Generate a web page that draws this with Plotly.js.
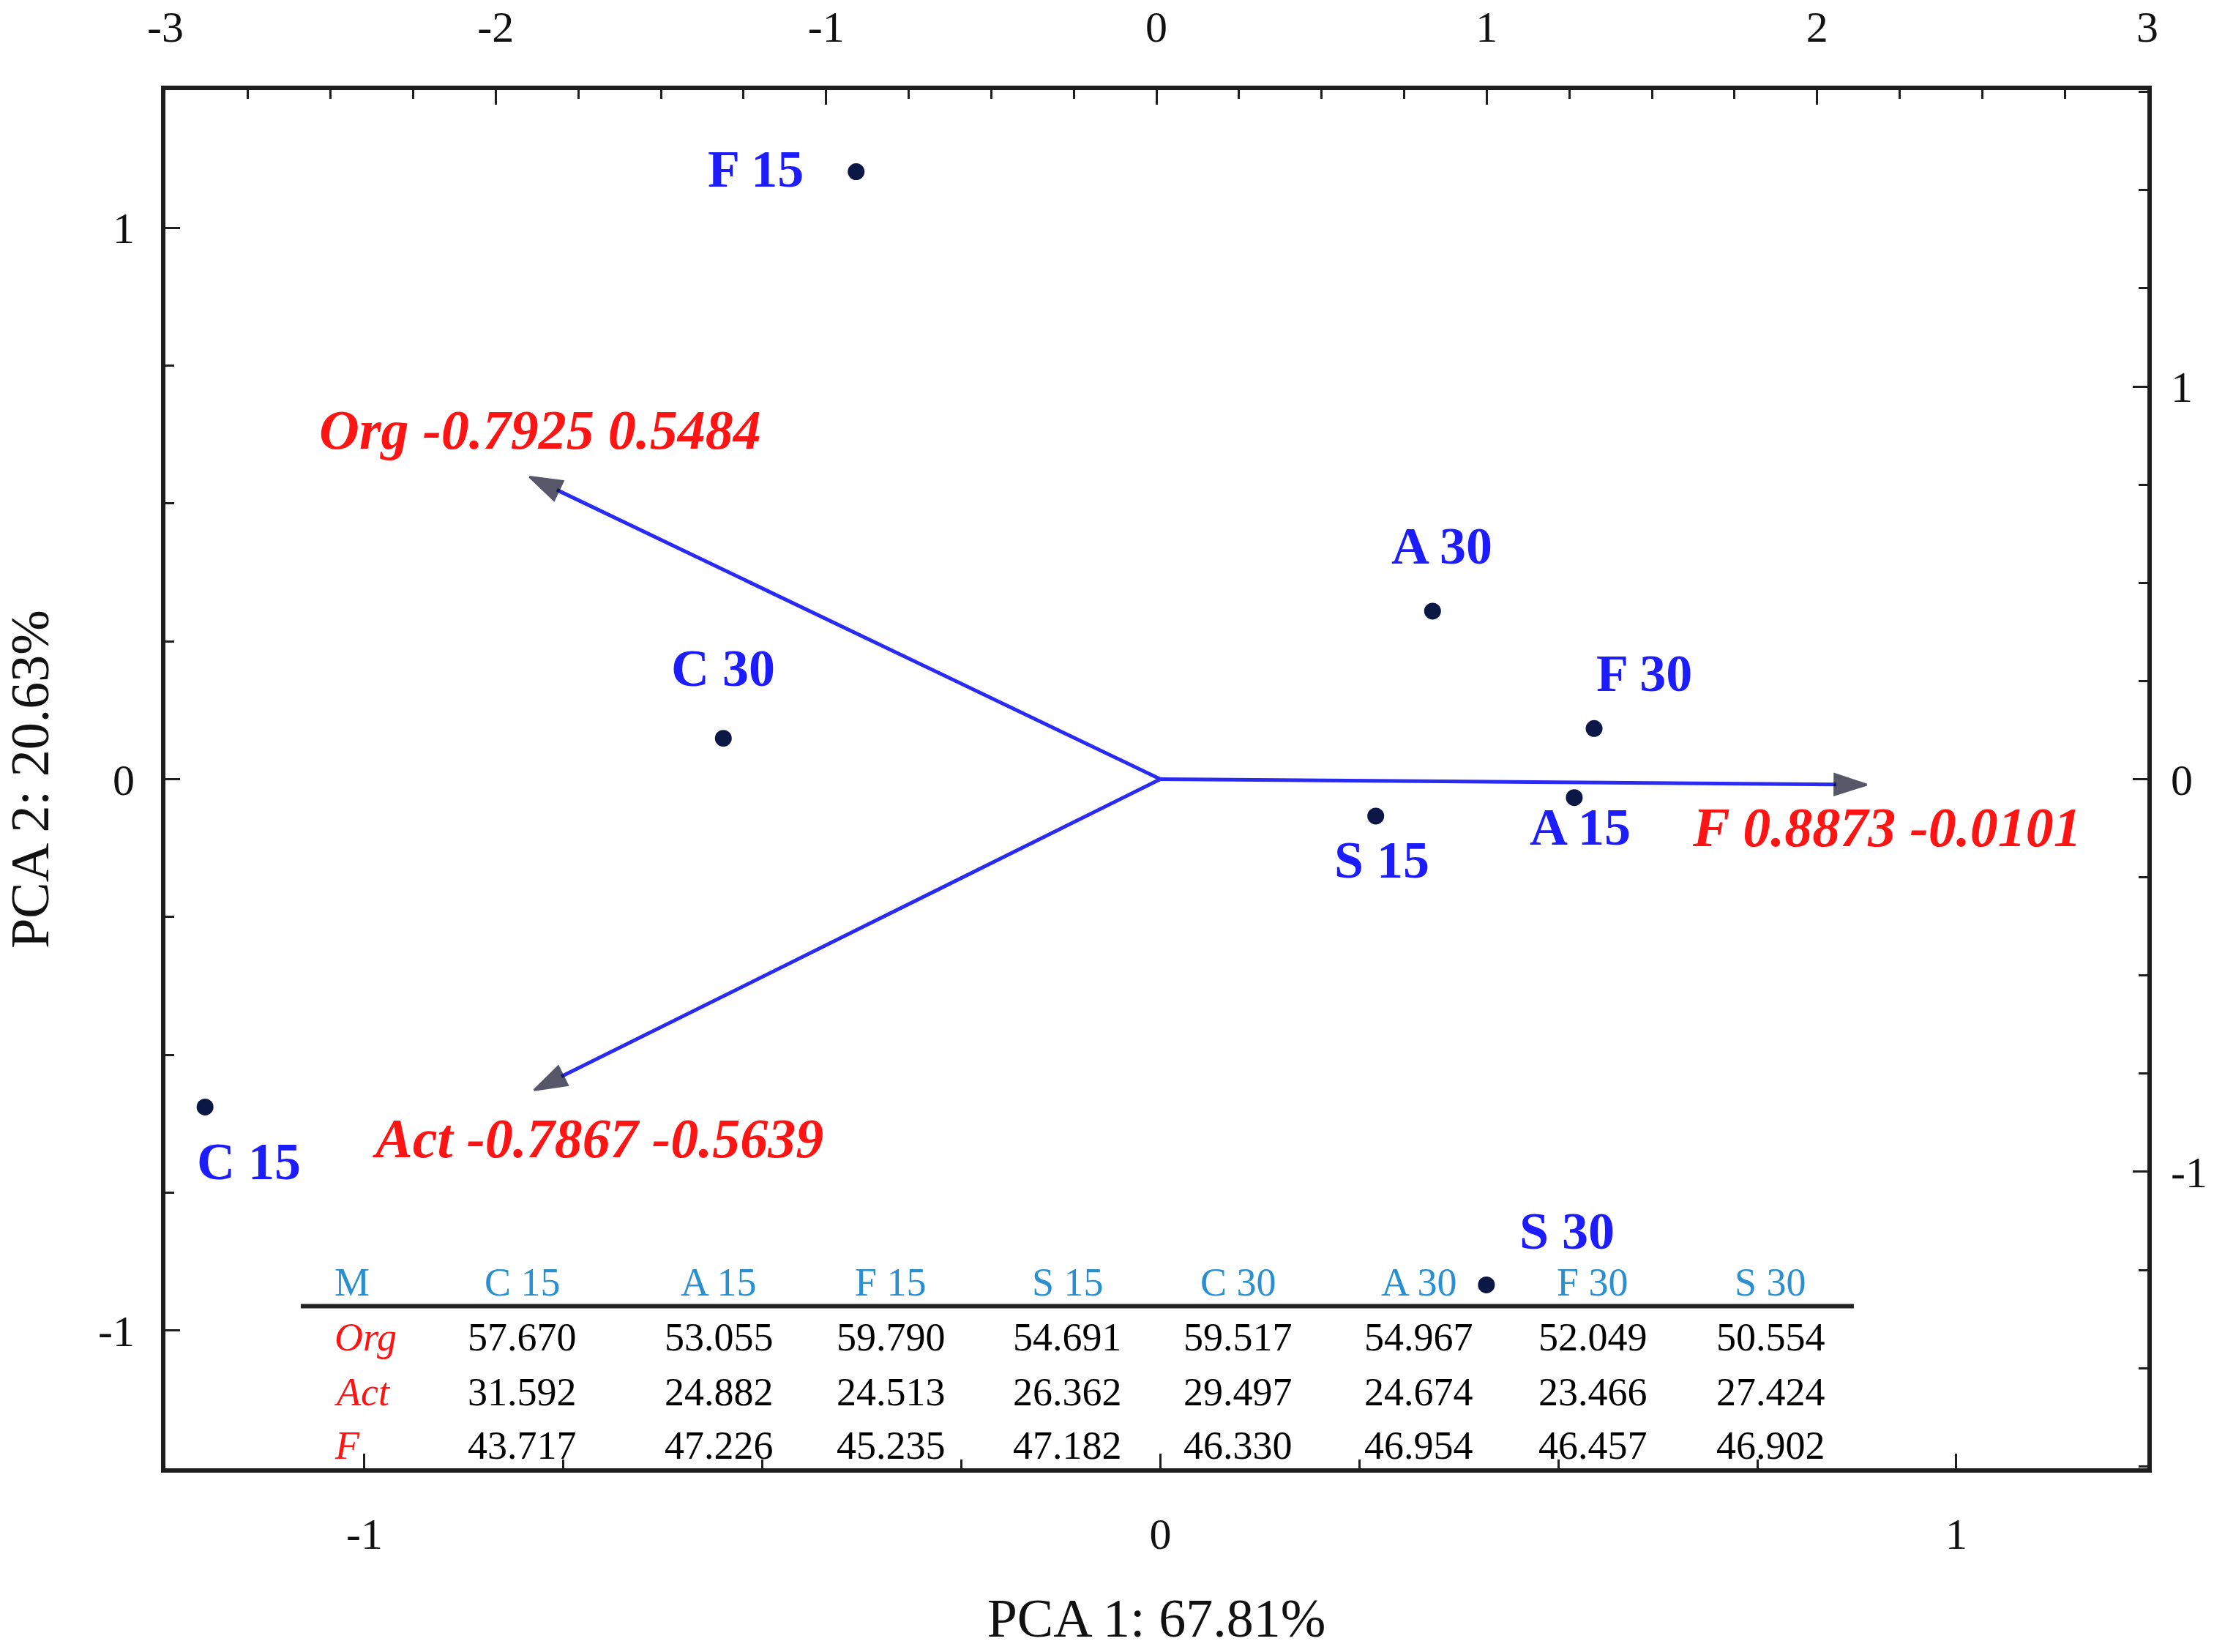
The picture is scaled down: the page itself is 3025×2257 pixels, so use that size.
<!DOCTYPE html>
<html><head><meta charset="utf-8">
<script src="https://cdn.plot.ly/plotly-3.0.1.min.js"></script>
<style>html,body{margin:0;padding:0;background:#fff;} #chart{width:3025px;height:2257px;}</style>
</head><body><div id="chart"></div>
<script>
// ---- data ----
const sampleNames = ['C 15', 'A 15', 'F 15', 'S 15', 'C 30', 'A 30', 'F 30', 'S 30'];
const scorePC1 = [-2.88, 1.265, -0.909, 0.664, -1.311, 0.836, 1.325, 0.999];
const scorePC2 = [-0.835, -0.047, 1.547, -0.094, 0.104, 0.428, 0.129, -1.288];
const variableNames = ['Org', 'Act', 'F'];
const loadingPC1 = [-0.7925, -0.7867, 0.8873];
const loadingPC2 = [0.5484, -0.5639, -0.0101];
const tableCorner = 'M';
const tableRowNames = ['Org', 'Act', 'F'];
const tableOrg = [57.670, 53.055, 59.790, 54.691, 59.517, 54.967, 52.049, 50.554];
const tableAct = [31.592, 24.882, 24.513, 26.362, 29.497, 24.674, 23.466, 27.424];
const tableF = [43.717, 47.226, 45.235, 47.182, 46.330, 46.954, 46.457, 46.902];
const pc1Title = 'PCA 1: 67.81%';
const pc2Title = 'PCA 2: 20.63%';
const topTickVals = [-3, -2, -1, 0, 1, 2, 3];
const topTickText = ['-3', '-2', '-1', '0', '1', '2', '3'];
const unitTickVals = [-1, 0, 1];
const unitTickText = ['-1', '0', '1'];

// ---- styles / positions ----
const SERIF = 'Liberation Serif, Times New Roman, serif';
const BLUE = '#1c1cff';
const RED = '#ff1414';
const AXC = '#1e1e1e';
const sampleLabelShift = [[60, -75], [8, -40], [-137, 4], [8, -60], [0, 96], [13, 89], [68, 75], [110, 73]];
const loadingLabelShift = [[14, 64], [87, -66], [28, -58]];
const tableColX = [0.1802, 0.2792, 0.3661, 0.4552, 0.5413, 0.6325, 0.7201, 0.8099];
const tableRowLabelX = 0.0847;
const tableRowY = [0.1350, 0.0951, 0.0551, 0.0162];
const tableLineY = 0.1176, tableLineX0 = 0.0683, tableLineX1 = 0.8519;

const traces = [];
// loading arrows (bottom/left axes)
for (let i = 0; i < variableNames.length; i++) {
  traces.push({
    x: [0, loadingPC1[i]], y: [0, loadingPC2[i]], xaxis: 'x', yaxis: 'y',
    mode: 'lines+markers', type: 'scatter', hoverinfo: 'skip', showlegend: false,
    line: {color: '#2a2af5', width: 5},
    marker: {symbol: ['circle', 'arrow'], size: [0, 46], angleref: 'previous',
             color: '#10122a', line: {width: 3, color: '#10122a'}}
  });
}
// score points (top/right axes)
traces.push({
  x: scorePC1, y: scorePC2, xaxis: 'x2', yaxis: 'y2', type: 'scatter', mode: 'markers',
  showlegend: false, marker: {color: '#0b1846', size: 23}
});

const annotations = [];
for (let i = 0; i < sampleNames.length; i++) {
  annotations.push({
    x: scorePC1[i], y: scorePC2[i], xref: 'x2', yref: 'y2', text: sampleNames[i], showarrow: false,
    xanchor: 'center', yanchor: 'middle',
    xshift: sampleLabelShift[i][0], yshift: sampleLabelShift[i][1],
    font: {family: SERIF, size: 72, color: BLUE, weight: 'bold'}
  });
}
for (let i = 0; i < variableNames.length; i++) {
  annotations.push({
    x: loadingPC1[i], y: loadingPC2[i], xref: 'x', yref: 'y',
    xanchor: 'center', yanchor: 'middle',
    text: variableNames[i] + ' ' + loadingPC1[i].toFixed(4) + ' ' + loadingPC2[i].toFixed(4),
    showarrow: false, xshift: loadingLabelShift[i][0], yshift: loadingLabelShift[i][1],
    font: {family: SERIF, size: 76, color: RED, weight: 'bold', style: 'italic'}
  });
}
// table
const TF = 54;
const HEAD = '#2a8fd0';
annotations.push({x: tableRowLabelX, y: tableRowY[0], xref: 'paper', yref: 'paper', xanchor: 'left', yanchor: 'middle',
  text: tableCorner, showarrow: false, font: {family: SERIF, size: TF, color: HEAD}});
sampleNames.forEach((n, j) => annotations.push({x: tableColX[j], y: tableRowY[0], xref: 'paper', yref: 'paper',
  xanchor: 'center', yanchor: 'middle',
  text: n, showarrow: false, font: {family: SERIF, size: TF, color: HEAD}}));
const tableRows = [tableOrg, tableAct, tableF];
tableRows.forEach((row, r) => {
  annotations.push({x: tableRowLabelX, y: tableRowY[r + 1], xref: 'paper', yref: 'paper', xanchor: 'left', yanchor: 'middle',
    text: tableRowNames[r], showarrow: false, font: {family: SERIF, size: TF, color: RED, style: 'italic'}});
  row.forEach((v, j) => annotations.push({x: tableColX[j], y: tableRowY[r + 1], xref: 'paper', yref: 'paper',
    xanchor: 'center', yanchor: 'middle',
    text: v.toFixed(3), showarrow: false, font: {family: SERIF, size: TF, color: '#000'}}));
});

function axisBase() {
  return {
    showline: true, linewidth: 6, linecolor: AXC, mirror: false, showgrid: false, zeroline: false,
    ticks: 'inside', ticklen: 20, tickwidth: 3, tickcolor: AXC,
    minor: {tickmode: 'linear', tick0: 0, dtick: 0.25, ticks: 'inside', ticklen: 12, tickwidth: 3, tickcolor: AXC, showgrid: false},
    tickfont: {family: SERIF, size: 60, color: '#111'}, tickmode: 'array', automargin: false
  };
}

const layout = {
  width: 3025, height: 2257, paper_bgcolor: '#fff', plot_bgcolor: '#fff',
  margin: {l: 226, r: 91, t: 123, b: 251},
  showlegend: false,
  xaxis: Object.assign(axisBase(), {range: [-1.25, 1.24], side: 'bottom', anchor: 'y',
    tickvals: unitTickVals, ticktext: unitTickText, ticklabelstandoff: 32,
    title: {text: pc1Title, font: {family: SERIF, size: 74, color: '#111'}, standoff: 58}}),
  xaxis2: Object.assign(axisBase(), {range: [-3, 3], side: 'top', overlaying: 'x', anchor: 'y',
    tickvals: topTickVals, ticktext: topTickText, ticklabelstandoff: 36}),
  yaxis: Object.assign(axisBase(), {range: [-1.25, 1.25], side: 'left', anchor: 'x',
    tickvals: unitTickVals, ticktext: unitTickText, ticklabelstandoff: 24,
    title: {text: pc2Title, font: {family: SERIF, size: 74, color: '#111'}, standoff: 70}}),
  yaxis2: Object.assign(axisBase(), {range: [-1.755, 1.755], side: 'right', overlaying: 'y', anchor: 'x',
    tickvals: unitTickVals, ticktext: unitTickText, ticklabelstandoff: 14}),
  annotations: annotations,
  shapes: [{type: 'line', xref: 'paper', yref: 'paper', x0: tableLineX0, x1: tableLineX1,
    y0: tableLineY, y1: tableLineY, line: {color: '#222', width: 6}}]
};

Plotly.newPlot('chart', traces, layout, {displayModeBar: false, staticPlot: true});
</script>
</body></html>
